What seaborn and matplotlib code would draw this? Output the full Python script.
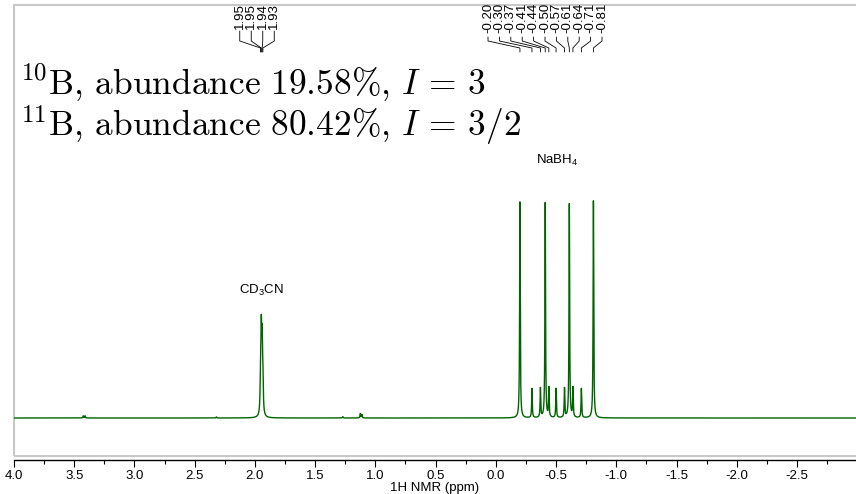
import numpy as np
import matplotlib
matplotlib.use("Agg")
import matplotlib.pyplot as plt
import matplotlib.transforms as mtransforms
from matplotlib.patches import Rectangle
from matplotlib.ticker import MultipleLocator
import seaborn as sns

# --- peak list (chemical shift in ppm, relative intensity) ---
# BH4- coupled to 11B (I = 3/2): 1:1:1:1 quartet
bh4_11b_shift = [-0.20, -0.41, -0.61, -0.81]
bh4_11b_height = [1.000, 0.995, 0.990, 1.005]
# BH4- coupled to 10B (I = 3): seven equal lines
bh4_10b_shift = [-0.30, -0.37, -0.44, -0.50, -0.57, -0.64, -0.71]
bh4_10b_height = [0.135, 0.135, 0.135, 0.135, 0.135, 0.135, 0.135]
# residual CD2HCN solvent multiplet
cd3cn_shift = [1.953, 1.947, 1.940, 1.934]
cd3cn_height = [0.180, 0.350, 0.305, 0.145]
# small impurity signals
minor_shift = [3.425, 3.410, 2.320, 1.270, 1.125, 1.112]
minor_height = [0.010, 0.010, 0.005, 0.006, 0.020, 0.016]

tick_values = [4.0, 3.5, 3.0, 2.5, 2.0, 1.5, 1.0, 0.5, 0.0, -0.5, -1.0, -1.5, -2.0, -2.5]

bh4_labels = sorted(bh4_11b_shift + bh4_10b_shift, reverse=True)
cd3cn_labels = cd3cn_shift

# --- spectrum from Lorentzian lines ---
ppm = np.arange(4.0, -3.0, -0.0005)
intensity = np.zeros_like(ppm)
for shifts, heights, fwhm in [(bh4_11b_shift, bh4_11b_height, 0.006),
                              (bh4_10b_shift, bh4_10b_height, 0.006),
                              (cd3cn_shift, cd3cn_height, 0.0075),
                              (minor_shift, minor_height, 0.006)]:
    for s, h in zip(shifts, heights):
        intensity += h / (1.0 + ((ppm - s) / (fwhm / 2)) ** 2)

sns.set_theme(style="white")
plt.rcParams["font.family"] = ["Liberation Sans", "DejaVu Sans"]

W, H = 856, 494
fig = plt.figure(figsize=(W / 100, H / 100), dpi=100)
ax_left, ax_top, ax_bottom = 14, 5, 456
ax = fig.add_axes([ax_left / W, (H - ax_bottom) / H, (W - ax_left) / W, (ax_bottom - ax_top) / H])

PX_PER_PPM = 120.46
x_min = 4.0 - (W - ax_left) / PX_PER_PPM
base_px = 418
unit_px = 216
ax.set_xlim(4.0, x_min)
ax.set_ylim(-(ax_bottom - base_px) / unit_px, (base_px - ax_top) / unit_px)

sns.lineplot(x=ppm, y=intensity, ax=ax, color="#006400", lw=1.0,
             estimator=None, sort=False)

# frame and axis
for side in ["left", "right", "top"]:
    ax.spines[side].set_visible(False)
ax.spines["bottom"].set_color("black")
ax.spines["bottom"].set_linewidth(1.0)
ax.spines["bottom"].set_position(("outward", 2.9))
ax.add_patch(Rectangle((0, 0), 1.05, 1, transform=ax.transAxes, fill=False,
                       ec="#c8c8c8", lw=1.5, clip_on=False, zorder=0))

ax.set_yticks([])
ax.set_xticks(tick_values)
ax.set_xticklabels([f"{v:.1f}" for v in tick_values])
ax.xaxis.set_minor_locator(MultipleLocator(0.25))
ax.tick_params(axis="x", which="major", direction="out", length=5, width=0.8,
               color="black", labelsize=9.5, pad=2, bottom=True, labelcolor="black")
ax.tick_params(axis="x", which="minor", direction="out", length=3, width=0.8,
               color="black", bottom=True)
ax.set_xlabel("1H NMR (ppm)", fontsize=9.5, color="black")
ax.xaxis.set_label_coords(0.5, -0.057)
ax.set_ylabel("")


def yfrac(px_from_top):
    return (ax_bottom - px_from_top) / (ax_bottom - ax_top)


blend = mtransforms.blended_transform_factory(ax.transData, ax.transAxes)


def peak_labels(shifts, center_px, spacing_px, line_start):
    n = len(shifts)
    center = 4.0 - (center_px - ax_left) / PX_PER_PPM
    step = spacing_px / PX_PER_PPM
    for i, s in enumerate(shifts):
        lx = center - (i - (n - 1) / 2) * step
        ax.text(lx, yfrac(3), f"{s:.2f}", rotation=90, ha="center",
                va="top", transform=blend, fontsize=9.5, color="black",
                clip_on=False)
        ax.plot([lx, lx, s, s],
                [yfrac(line_start), yfrac(41), yfrac(48), yfrac(52)],
                transform=blend, color="black", lw=0.6, clip_on=False)


peak_labels(cd3cn_labels, 257, 11.5, 31)
peak_labels(bh4_labels, 545, 11.4, 37)

ax.text(float(np.mean(cd3cn_shift)), yfrac(290), r"CD$_{\mathregular{3}}$CN",
        ha="center", va="center", transform=blend, fontsize=9.5, color="black")
ax.text(float(np.mean(bh4_labels)), yfrac(160), r"NaBH$_{\mathregular{4}}$",
        ha="center", va="center", transform=blend, fontsize=9.5, color="black")

fig.text(20 / W, 1 - 95 / H,
         r"$^{10}\mathrm{B},\,\mathrm{abundance}\ 19.58\%,\,I\,=\,3$",
         fontsize=25.5, va="baseline", ha="left", math_fontfamily="cm", color="black")
fig.text(20 / W, 1 - 136 / H,
         r"$^{11}\mathrm{B},\,\mathrm{abundance}\ 80.42\%,\,I\,=\,3/2$",
         fontsize=25.5, va="baseline", ha="left", math_fontfamily="cm", color="black")

fig.savefig("out.png", dpi=100)
